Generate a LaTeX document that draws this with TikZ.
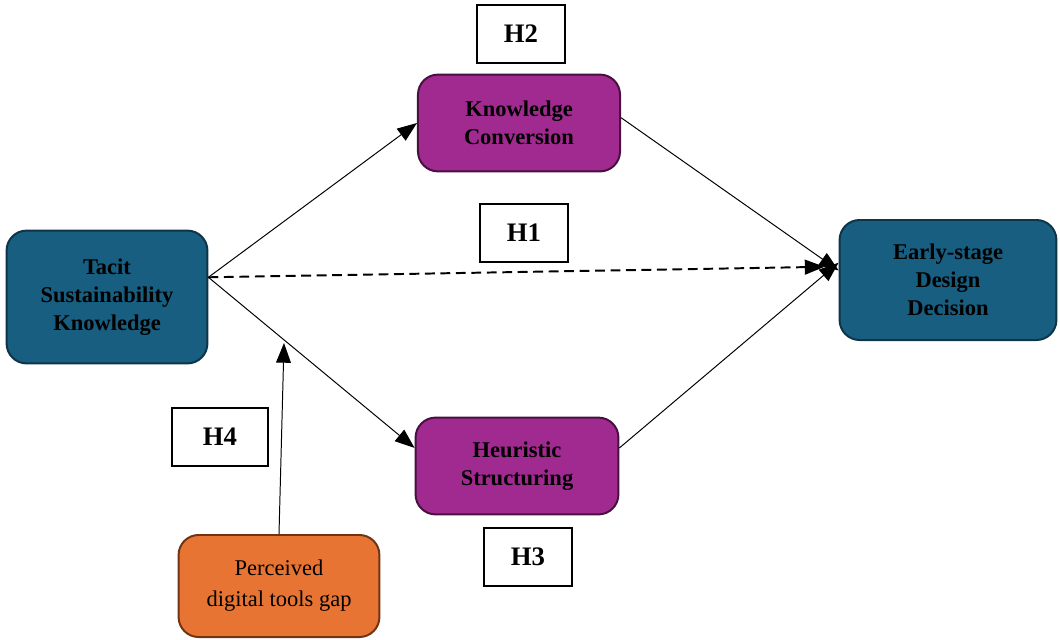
\documentclass[tikz,border=0pt]{standalone}
\usepackage{fontspec}
\setmainfont{Liberation Serif}
\usepackage{tikz}
\usetikzlibrary{arrows.meta}
\definecolor{tealbox}{RGB}{23,94,128}
\definecolor{tealedge}{RGB}{14,52,72}
\definecolor{plumbox}{RGB}{160,42,143}
\definecolor{plumedge}{RGB}{72,16,62}
\definecolor{orangebox}{RGB}{232,116,52}
\definecolor{orangeedge}{RGB}{112,52,20}

\begin{document}
\begin{tikzpicture}[x=0.025cm, y=-0.025cm]
\tikzstyle{construct}=[draw, rounded corners=0.5cm, line width=1.4pt, align=center, inner sep=2pt, font=\fontsize{16}{20}\selectfont\bfseries]
\tikzstyle{hyp}=[draw, line width=1.4pt, minimum width=2.2cm, minimum height=1.45cm, inner sep=0pt, font=\fontsize{19}{22}\selectfont\bfseries]
\tikzstyle{path}=[line width=0.7pt, -{Triangle[length=14pt, width=10.5pt]}]
\useasboundingbox (0,0) rectangle (1060,639);

\node[construct, fill=tealbox, draw=tealedge, minimum width=5.02cm, minimum height=3.32cm] (tsk) at (107,297) {Tacit\\Sustainability\\Knowledge};
\node[construct, fill=plumbox, draw=plumedge, minimum width=5.05cm, minimum height=2.42cm] (kc) at (519,123) {Knowledge\\Conversion};
\node[construct, fill=plumbox, draw=plumedge, minimum width=5.07cm, minimum height=2.42cm] (hs) at (517,466) {Heuristic\\Structuring};
\node[construct, fill=tealbox, draw=tealedge, minimum width=5.42cm, minimum height=3cm] (edd) at (948,280) {Early-stage\\Design\\Decision};
\node[construct, fill=orangebox, draw=orangeedge, minimum width=5.02cm, minimum height=2.55cm, font=\fontsize{16}{22}\selectfont] (pdg) at (279,586) {Perceived\\digital tools gap};

\node[hyp] (h2) at (521,34) {H2};
\node[hyp] (h1) at (524,233) {H1};
\node[hyp, minimum width=2.38cm] (h4) at (220,437) {H4};
\node[hyp] (h3) at (528,557) {H3};

\coordinate (mod) at (284,343);

\draw[path] (tsk.11) -- (kc.west);
\draw[path] (tsk.11) -- (hs.170);
\draw[path, line width=1.4pt, dash pattern=on 7pt off 4pt, shorten >=10pt] (tsk.11) -- (edd.173);
\draw[path] (kc.3) -- (edd.175);
\draw[path] (hs.10) -- (edd.171);
\draw[path] (pdg.north) -- (mod);
\end{tikzpicture}
\end{document}
